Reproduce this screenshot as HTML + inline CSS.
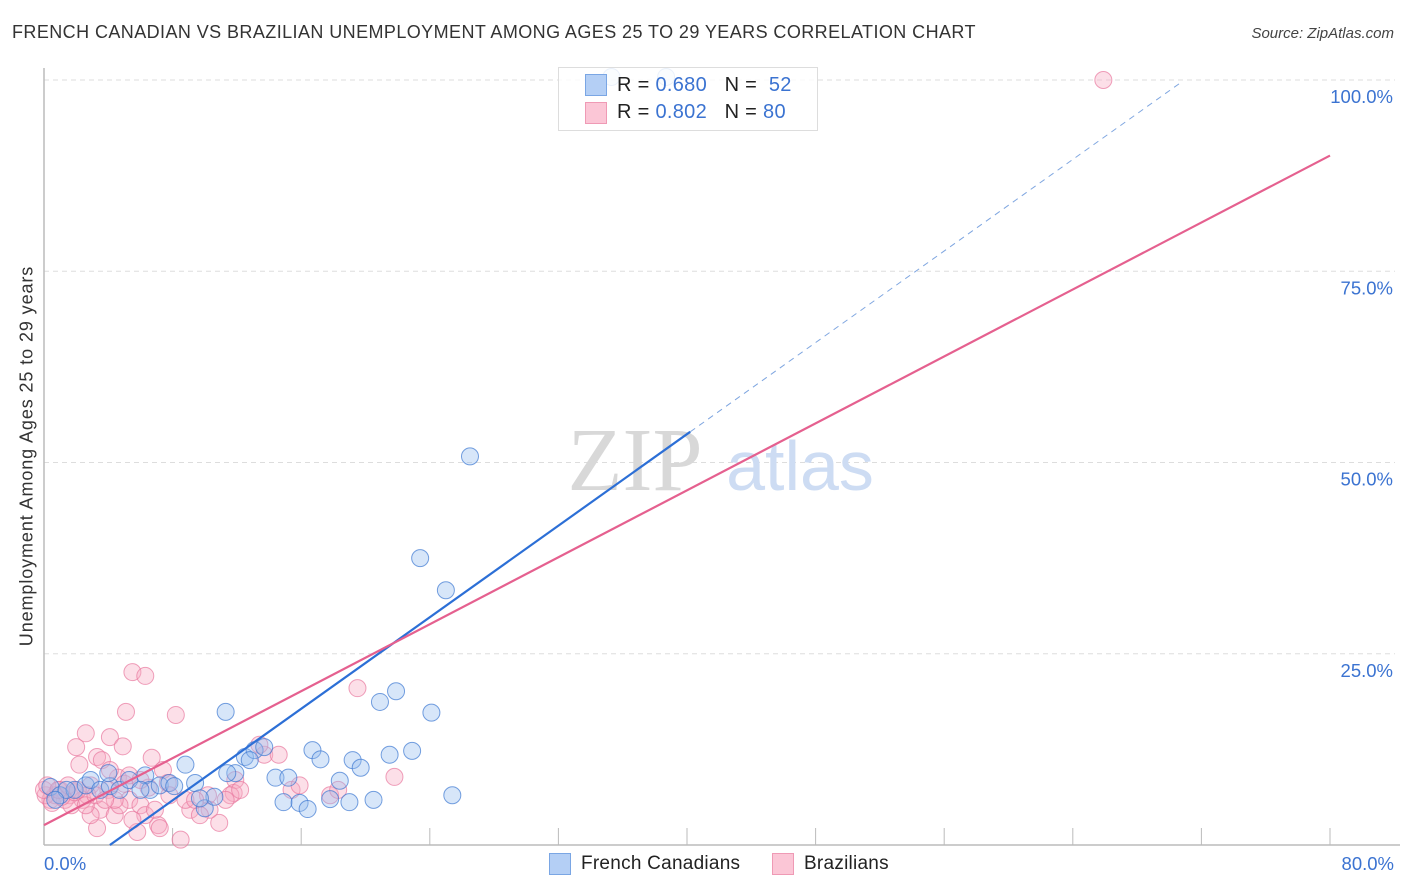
<!DOCTYPE html>
<html><head><meta charset="utf-8"><style>
body{margin:0;background:#fff;font-family:"Liberation Sans",sans-serif;}
#wrap{position:relative;width:1406px;height:892px;overflow:hidden;}
.t{position:absolute;white-space:nowrap;}
</style></head><body>
<div id="wrap">
<div class="t" style="left:12px;top:22px;font-size:18px;letter-spacing:0.42px;color:#333;">FRENCH CANADIAN VS BRAZILIAN UNEMPLOYMENT AMONG AGES 25 TO 29 YEARS CORRELATION CHART</div>
<div class="t" style="right:12px;top:25px;font-size:15px;color:#444;font-style:italic;">Source: ZipAtlas.com</div>
<div class="t" style="left:27px;top:456px;font-size:18px;letter-spacing:0.9px;color:#333;transform:translate(-50%,-50%) rotate(-90deg);">Unemployment Among Ages 25 to 29 years</div>
<svg id="plot" width="1406" height="892" style="position:absolute;left:0;top:0"></svg>
</div>
<script>
const xTicks=[8,16,24,32,40,48,56,64,72,80];
const yTicks=[25,50,75,100];
const yTickLabels=["25.0%","50.0%","75.0%","100.0%"];
const blueX=[0.4,1.0,1.9,2.6,2.9,3.5,4.1,4.7,5.3,6.3,6.6,7.2,7.8,8.8,9.4,10.0,10.6,11.3,11.9,12.5,13.1,13.7,14.4,14.9,15.2,15.9,16.4,16.7,17.2,17.8,18.4,19.0,19.2,19.7,20.5,20.9,21.5,21.9,22.9,23.4,24.1,25.0,25.4,26.5,4.0,1.4,0.7,6.0,8.1,12.8,11.4,9.7,35.3,38.7];
const blueY=[7.6,6.5,7.2,7.8,8.5,7.2,7.7,7.2,8.5,9.1,7.2,7.8,8.1,10.5,8.1,4.8,6.3,17.4,9.4,11.5,12.4,12.8,8.8,5.6,8.8,5.5,4.7,12.4,11.2,6.0,8.4,5.6,11.1,10.1,5.9,18.7,11.8,20.1,12.3,37.5,17.3,33.3,6.5,50.8,9.4,7.2,5.9,7.2,7.7,11.1,9.4,6.1,100.4,100.4];
const pinkX=[65.9,5.5,6.3,5.1,8.2,19.5,21.8,2.0,2.6,3.3,4.1,3.6,4.9,6.7,7.4,2.2,2.9,1.0,1.6,0.4,0.7,1.3,3.5,4.4,5.3,6.0,3.3,5.8,7.1,8.5,10.9,9.1,10.3,11.9,13.7,14.6,15.4,17.8,6.5,4.6,4.0,2.4,1.7,0.1,0.5,1.1,2.7,1.9,5.0,7.2,9.7,11.8,6.3,4.7,8.8,4.1,5.3,7.7,2.9,2.6,11.6,4.4,5.5,6.9,10.2,13.4,18.3,0,0.2,0.9,1.5,2.1,3.2,3.8,6.0,7.8,9.4,11.3,12.2,15.9];
const pinkY=[100,22.6,22.1,17.4,17.0,20.5,8.9,12.8,14.6,11.5,14.1,11.1,12.9,11.4,9.8,10.5,7.8,7.2,6.5,5.9,6.5,5.9,4.6,3.9,5.9,5.2,2.2,1.7,2.6,0.7,2.9,4.6,4.6,8.5,11.8,11.8,7.2,6.5,7.5,8.8,7.2,5.9,5.2,6.5,5.5,6.3,6.5,6.9,8.0,2.2,3.9,6.8,3.9,5.2,5.9,9.8,9.1,8.1,3.9,5.2,6.5,5.9,3.3,4.6,6.5,13.1,7.2,7.2,7.8,7.2,7.8,7.2,6.5,5.9,8.5,6.5,5.9,5.9,7.2,7.8];
const blueTrend=[-6.13,1.496];
const pinkTrend=[2.6,1.094];
const NS="http://www.w3.org/2000/svg";
const svg=document.getElementById('plot');
const X0=44,X1=1330,Y0=845,Y100=80;
const sx=v=>X0+(X1-X0)*v/80;
const sy=v=>Y0-(Y0-Y100)*v/100;
function mk(tag,attrs){const e=document.createElementNS(NS,tag);for(const k in attrs)e.setAttribute(k,attrs[k]);svg.appendChild(e);return e;}
yTicks.forEach((t,i)=>{
 const g=mk('line',{x1:X0,x2:1395,y1:sy(t),y2:sy(t),stroke:'#ddd','stroke-dasharray':'5,4'});
 
 
 const tx=mk('text',{x:1393,y:sy(t)+23,'text-anchor':'end','font-size':18.5,fill:'#3b73d1','font-family':'Liberation Sans, sans-serif'});
 tx.textContent=yTickLabels[i];
 
 
});
const ax=mk('line',{x1:X0,x2:1400,y1:Y0,y2:Y0,stroke:'#bbb','stroke-width':1.5});


const ay=mk('line',{x1:X0,x2:X0,y1:68,y2:Y0,stroke:'#bbb','stroke-width':1.5});


xTicks.forEach(v=>{
 const tk=mk('line',{x1:sx(v),x2:sx(v),y1:Y0-17,y2:Y0,stroke:'#bbb'});
 
 
});
const wm1=mk('text',{x:635,y:490,'text-anchor':'middle','font-size':90,fill:'#d8d8d8','font-family':'Liberation Serif, serif'});
wm1.textContent='ZIP';


const wm2=mk('text',{x:800,y:490,'text-anchor':'middle','font-size':70,fill:'#cddcf3','font-family':'Liberation Sans, sans-serif'});
wm2.textContent='atlas';


pinkX.forEach((x,i)=>{
 const c=mk('circle',{cx:sx(x),cy:sy(pinkY[i]),r:8.5,fill:'rgba(248,170,195,0.38)',stroke:'rgba(232,120,158,0.7)','stroke-width':1});
 
 
});
blueX.forEach((x,i)=>{
 const c=mk('circle',{cx:sx(x),cy:sy(blueY[i]),r:8.5,fill:'rgba(150,190,240,0.38)',stroke:'rgba(60,120,210,0.7)','stroke-width':1});
 
 
});
const bx0=-blueTrend[0]/blueTrend[1];
const bl=mk('line',{x1:sx(bx0),y1:sy(0),x2:sx(40.2),y2:sy(blueTrend[0]+blueTrend[1]*40.2),stroke:'#2c6fd6','stroke-width':2.2});


const bd=mk('line',{x1:sx(40.2),y1:sy(blueTrend[0]+blueTrend[1]*40.2),x2:sx(70.8),y2:sy(blueTrend[0]+blueTrend[1]*70.8),stroke:'#7fa6e0','stroke-width':1,'stroke-dasharray':'6,5'});


const pl=mk('line',{x1:sx(0),y1:sy(pinkTrend[0]),x2:sx(80),y2:sy(pinkTrend[0]+pinkTrend[1]*80),stroke:'#e5608f','stroke-width':2.2});


</script>
<div class="t" style="left:558px;top:67px;width:258px;height:62px;border:1px solid #ddd;background:rgba(255,255,255,0.85);"></div>
<div class="t" style="left:585px;top:74px;width:20px;height:20px;background:#b4cff5;border:1px solid #7aa6e4;"></div>
<div class="t" style="left:585px;top:102px;width:20px;height:20px;background:#fbc6d6;border:1px solid #ef9ab5;"></div>
<div class="t" style="left:617px;top:74px;font-size:20px;letter-spacing:0.3px;color:#222;">R = <span style="color:#3b73d1">0.680</span>&nbsp;&nbsp;&nbsp;N = &nbsp;<span style="color:#3b73d1">52</span></div>
<div class="t" style="left:617px;top:101px;font-size:20px;letter-spacing:0.3px;color:#222;">R = <span style="color:#3b73d1">0.802</span>&nbsp;&nbsp;&nbsp;N = <span style="color:#3b73d1">80</span></div>
<div class="t" style="left:44px;top:853px;font-size:18.5px;color:#3b73d1;">0.0%</div>
<div class="t" style="right:12px;top:853px;font-size:18.5px;color:#3b73d1;">80.0%</div>
<div class="t" style="left:549px;top:853px;width:20px;height:20px;background:#b4cff5;border:1px solid #7aa6e4;"></div>
<div class="t" style="left:581px;top:853px;font-size:19px;letter-spacing:0.25px;color:#222;">French Canadians</div>
<div class="t" style="left:772px;top:853px;width:20px;height:20px;background:#fbc6d6;border:1px solid #ef9ab5;"></div>
<div class="t" style="left:804px;top:853px;font-size:19px;letter-spacing:0.25px;color:#222;">Brazilians</div>
</body></html>
